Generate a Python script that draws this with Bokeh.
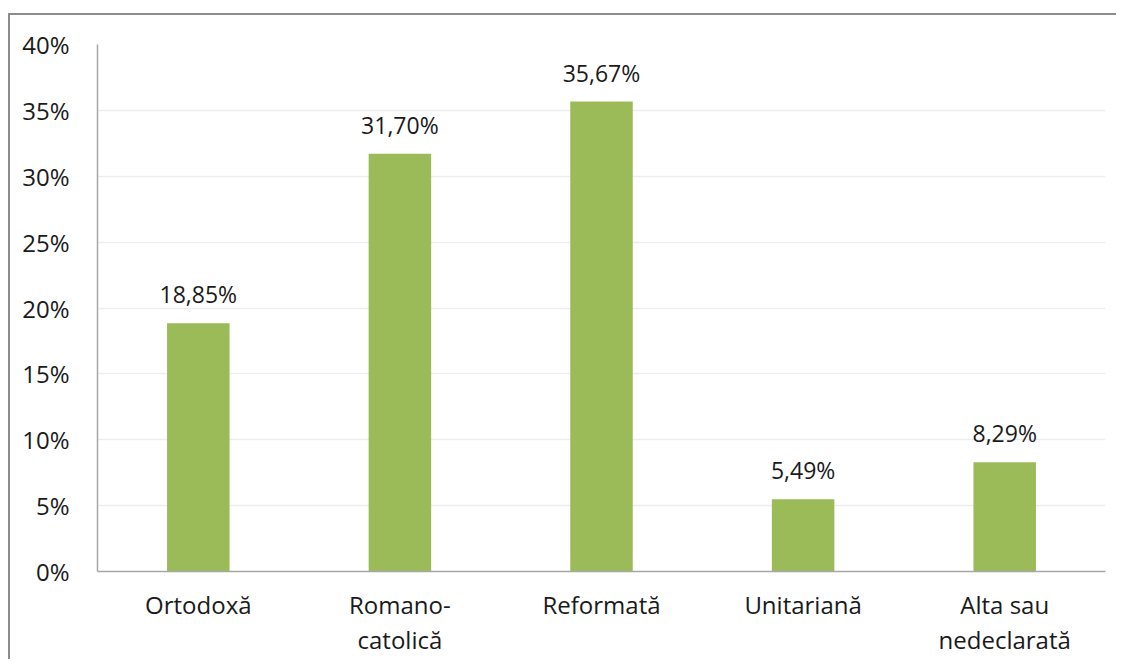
from bokeh.plotting import figure
from bokeh.models import (ColumnDataSource, FactorRange, Range1d, PrintfTickFormatter,
                          FixedTicker, LabelSet, CategoricalAxis)
from bokeh.core.properties import value
from bokeh.embed import file_html
from bokeh.resources import INLINE

categories = ["Ortodoxă", "Romano-catolică", "Reformată", "Unitariană", "Alta sau nedeclarată"]
# category labels as shown, split over two lines (blank second lines kept distinct)
label_line1 = ["Ortodoxă", "Romano-", "Reformată", "Unitariană", "Alta sau"]
label_line2 = [" ", "catolică", "  ", "   ", "nedeclarată"]
values = [18.85, 31.70, 35.67, 5.49, 8.29]
value_labels = ["18,85%", "31,70%", "35,67%", "5,49%", "8,29%"]
y_ticks = [0, 5, 10, 15, 20, 25, 30, 35, 40]

FONT = "Open Sans"
BAR = "#9BBB59"
TXT = "#1a1a1a"
SIZE = "24px"

src = ColumnDataSource(dict(cat=categories, val=values, lab=value_labels))

p = figure(x_range=FactorRange(*categories, range_padding=0), y_range=Range1d(0, 40),
           width=1108, height=646, output_backend="svg", toolbar_location=None,
           x_axis_location=None,
           min_border_left=87, min_border_right=13, min_border_top=29, min_border_bottom=90)
p.styles = {"border-left": "2px solid #8c8c8c", "border-top": "2px solid #8c8c8c",
            "margin-top": "13px", "margin-left": "8px"}
p.outline_line_color = None
p.background_fill_color = "white"

p.extra_x_ranges = {"line1": FactorRange(*label_line1, range_padding=0),
                    "line2": FactorRange(*label_line2, range_padding=0)}

p.vbar(x="cat", top="val", width=0.31, source=src, color=BAR, line_color=None)

labels = LabelSet(x="cat", y="val", text="lab", source=src, text_align="center",
                  text_baseline="alphabetic", y_offset=20, text_font=value(FONT),
                  text_font_size="23px", text_color=TXT)
p.add_layout(labels)

ax1 = CategoricalAxis(x_range_name="line1")
ax1.axis_line_color = "#a6a6a6"
ax1.axis_line_width = 1.5
ax1.major_label_standoff = 10
p.add_layout(ax1, "below")

ax2 = CategoricalAxis(x_range_name="line2")
ax2.axis_line_color = None
ax2.major_label_standoff = -7
p.add_layout(ax2, "below")

p.yaxis.ticker = FixedTicker(ticks=y_ticks)
p.yaxis.formatter = PrintfTickFormatter(format="%d%%")
p.yaxis.axis_line_color = "#a6a6a6"
p.yaxis.axis_line_width = 1.5
p.yaxis.major_label_standoff = 22

for ax in (ax1, ax2, p.yaxis[0]):
    ax.major_tick_line_color = None
    ax.minor_tick_line_color = None
    ax.major_label_text_font = FONT
    ax.major_label_text_font_size = SIZE
    ax.major_label_text_color = TXT

p.xgrid.grid_line_color = None
p.ygrid.grid_line_color = "#ededed"
p.ygrid.grid_line_width = 1.5

open("out.html", "w").write(file_html(p, INLINE))
